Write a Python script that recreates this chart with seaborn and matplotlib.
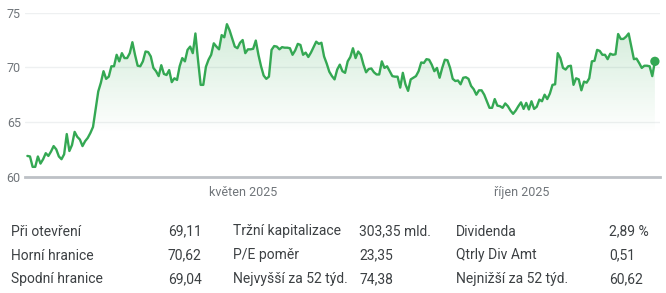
import numpy as np
import pandas as pd
import matplotlib
matplotlib.use("Agg")
import matplotlib.pyplot as plt
import matplotlib.dates as mdates
from matplotlib.patches import PathPatch
from matplotlib.colors import to_rgb
import seaborn as sns

# ---------------- data ----------------
prices = [
    61.9, 61.85, 60.9, 60.9, 61.85, 61.2, 61.6, 62.15, 61.9, 62.3, 62.8, 62.5, 61.85, 61.6,
    62.05, 63.9, 62.35, 62.9, 64.1, 63.65, 63.4, 62.8, 63.25, 63.55, 64.0, 64.55, 66.2, 67.8,
    68.6, 69.65, 68.95, 69.15, 70.1, 70.1, 71.15, 70.55, 71.3, 70.85, 70.85, 71.3, 72.3, 71.15,
    70.15, 70.1, 70.55, 71.45, 71.4, 71.0, 69.95, 69.65, 69.2, 70.2, 69.4, 69.3, 69.75, 68.65,
    69.0, 68.85, 70.1, 70.85, 70.55,
    71.6, 71.9, 71.3, 73.1, 70.65, 68.4, 68.4, 70.05, 70.7, 71.15, 72.2, 71.9, 71.65, 72.95,
    72.75, 73.95, 73.4, 72.65, 71.9, 71.75, 72.25, 72.5, 71.3, 71.65, 71.65, 71.7, 72.45, 71.15,
    70.1, 69.25, 68.95, 69.15, 71.6, 71.95, 71.9, 71.65, 71.85, 71.8, 71.8, 71.75, 71.15, 71.55,
    72.15, 72.05, 71.15, 71.35, 70.95, 71.35, 71.85, 72.35, 72.15, 72.25, 71.0, 70.35, 69.6,
    69.2, 68.9, 69.8,
    70.25, 69.65, 69.5, 70.55, 70.95, 71.75, 70.85, 71.45, 71.15, 70.25, 69.55, 69.85, 69.9,
    69.55, 69.35, 69.35, 70.55, 69.95, 70.1, 69.65, 69.2, 69.15, 69.15, 68.15, 69.5, 68.45,
    67.85, 68.9, 69.05, 69.2, 69.65, 70.45, 70.4, 70.75, 70.7, 70.25, 69.65, 69.95, 69.05,
    69.95, 70.7, 70.65, 69.95, 68.95, 68.75, 68.8, 68.45, 69.05, 69.1, 68.95, 68.3, 68.0, 67.5,
    67.9, 67.9, 67.5, 66.9, 66.3,
    66.3, 67.1, 66.5, 66.45, 66.3, 66.7, 66.45, 66.05, 65.75, 66.05, 66.45, 66.8, 66.2, 66.75,
    66.15, 66.9, 66.2, 66.4, 67.05, 66.9, 67.5, 67.1, 67.6, 68.4, 68.45, 71.3, 70.85, 69.95,
    69.8, 70.1, 70.15, 68.4, 69.0, 68.9, 67.9, 68.7, 68.6, 69.0, 70.55, 70.6, 71.6, 71.5, 71.15,
    71.15, 70.75, 71.25, 71.15, 71.2, 73.05, 72.6, 72.6, 72.8, 73.1, 71.9, 70.75, 70.8, 70.4,
    69.95, 70.15, 70.15, 70.1, 69.2, 70.55,
]
start_date = "2025-01-03"
end_date = "2025-12-13"
x_tick_dates = ["2025-05-01", "2025-10-01"]
x_tick_labels = ["květen 2025", "říjen 2025"]
y_ticks = [60, 65, 70, 75]

stats_col1_labels = ["Při otevření", "Horní hranice", "Spodní hranice"]
stats_col1_values = ["69,11", "70,62", "69,04"]
stats_col2_labels = ["Tržní kapitalizace", "P/E poměr", "Nejvyšší za 52 týd."]
stats_col2_values = ["303,35 mld.", "23,35", "74,38"]
stats_col3_labels = ["Dividenda", "Qtrly Div Amt", "Nejnižší za 52 týd."]
stats_col3_values = ["2,89 %", "0,51", "60,62"]

# ---------------- style ----------------
sns.set_theme(style="white")
plt.rcParams['font.family'] = ['Roboto', 'DejaVu Sans']

GREEN = "#34a853"
GRID = "#eef0f1"
AXIS = "#bdc1c6"
TICKTXT = "#70757a"
TXT = "#3c4043"

dates = pd.date_range(start_date, end_date, periods=len(prices))
df = pd.DataFrame({"date": dates, "price": prices})

W, H = 666, 293
fig = plt.figure(figsize=(W / 100, H / 100), dpi=100)
ax = fig.add_axes([25 / W, 1 - 176.7 / H, 635 / W, 164 / H])

# gradient fill under the line
xnum = mdates.date2num(dates)
fb = ax.fill_between(dates, prices, 60, color="none", lw=0)
clip = PathPatch(fb.get_paths()[0], transform=ax.transData, facecolor="none", edgecolor="none")
ax.add_patch(clip)
yy = np.linspace(60, 75, 300)
alpha = np.clip((yy - 64.0) / (74.0 - 64.0), 0, 1) * 0.22
rgba = np.zeros((300, 1, 4))
rgba[..., :3] = to_rgb(GREEN)
rgba[:, 0, 3] = alpha
im = ax.imshow(rgba, extent=[xnum[0], xnum[-1], 60, 75], origin="lower", aspect="auto", zorder=1)
im.set_clip_path(clip)

sns.lineplot(data=df, x="date", y="price", color=GREEN, linewidth=1.7, ax=ax, zorder=3)
sns.scatterplot(data=df.tail(1), x="date", y="price", color=GREEN, s=45, edgecolor="none",
                ax=ax, zorder=4, clip_on=False)

ax.set_xlim(xnum[0] - 1.3, xnum[-1] + 2.8)
ax.set_ylim(60, 75)
ax.set_yticks(y_ticks)
ax.set_yticklabels([str(v) for v in y_ticks])
ax.set_xticks(mdates.date2num(pd.to_datetime(x_tick_dates)))
ax.set_xticklabels(x_tick_labels)
ax.set_xlabel("")
ax.set_ylabel("")
ax.yaxis.grid(True, color=GRID, lw=1)
ax.xaxis.grid(False)
for s in ["top", "right", "left"]:
    ax.spines[s].set_visible(False)
ax.spines["bottom"].set_color(AXIS)
ax.spines["bottom"].set_linewidth(2)
ax.tick_params(axis="y", length=0, pad=3, labelcolor=TICKTXT, labelsize=9)
ax.tick_params(axis="x", length=5, width=1, color=TICKTXT, pad=2, labelcolor=TICKTXT,
               labelsize=9, direction="out")
ax.set_facecolor("white")

# ---------------- stats table ----------------
rows_y = [231.5, 255.5, 279.5]
cols = [
    (11, 168, stats_col1_labels, stats_col1_values),
    (233, 359, stats_col2_labels, stats_col2_values),
    (456, 609, stats_col3_labels, stats_col3_values),
]
for lx, vx, labels, values in cols:
    for ry, lab, val in zip(rows_y, labels, values):
        fig.text(lx / W, 1 - ry / H, lab, ha="left", va="center", fontsize=10, color=TXT)
        fig.text(vx / W, 1 - ry / H, val, ha="left", va="center", fontsize=10, color=TXT)

fig.savefig("out.png", dpi=100, facecolor="white")
